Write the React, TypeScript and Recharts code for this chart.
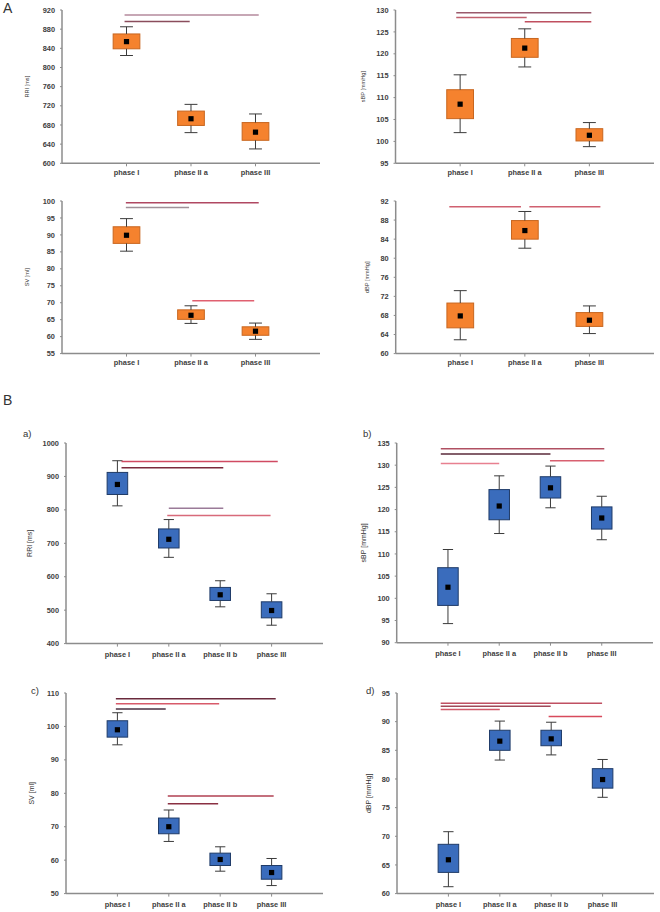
import React from 'react';
import { ScatterChart, Scatter, XAxis, YAxis, ReferenceArea, ReferenceLine } from 'recharts';

const phasesA = ['phase I', 'phase II a', 'phase III'];
const phasesB = ['phase I', 'phase II a', 'phase II b', 'phase III'];

// ---------- Panel A : RRI ----------
const aRriMean = [854, 693, 665];
const aRriQ1 = [839, 679, 648];
const aRriQ3 = [870, 709, 685];
const aRriMin = [825, 664, 630];
const aRriMax = [885, 723, 703];
const aRriTicks = [600, 640, 680, 720, 760, 800, 840, 880, 920];
const aRriSig = [
  { from: 0.97, to: 3.05, y: 909.5 },
  { from: 0.97, to: 1.98, y: 896 },
];
const aRriSigColors = ['#b58a9c', '#8a4d5c'];

// ---------- Panel A : sBP ----------
const aSbpMean = [108.5, 121.3, 101.4];
const aSbpQ1 = [105.2, 119.2, 100.1];
const aSbpQ3 = [111.8, 123.5, 102.9];
const aSbpMin = [102.0, 117.0, 98.8];
const aSbpMax = [115.2, 125.7, 104.3];
const aSbpTicks = [95, 100, 105, 110, 115, 120, 125, 130];
const aSbpSig = [
  { from: 0.94, to: 3.03, y: 129.4 },
  { from: 0.94, to: 2.03, y: 128.3 },
  { from: 2.0, to: 3.03, y: 127.3 },
];
const aSbpSigColors = ['#9a5a6c', '#c0606e', '#c04f5f'];

// ---------- Panel A : SV ----------
const aSvMean = [89.9, 66.3, 61.6];
const aSvQ1 = [87.5, 65.1, 60.4];
const aSvQ3 = [92.4, 67.9, 62.9];
const aSvMin = [85.2, 63.9, 59.2];
const aSvMax = [94.8, 69.1, 64.0];
const aSvTicks = [55, 60, 65, 70, 75, 80, 85, 90, 95, 100];
const aSvSig = [
  { from: 0.99, to: 3.05, y: 99.5 },
  { from: 0.99, to: 1.97, y: 98.1 },
  { from: 2.02, to: 2.98, y: 70.6 },
];
const aSvSigColors = ['#b04862', '#a09098', '#e06070'];

// ---------- Panel A : dBP ----------
const aDbpMean = [67.9, 85.8, 67.0];
const aDbpQ1 = [65.4, 84.0, 65.7];
const aDbpQ3 = [70.6, 87.9, 68.6];
const aDbpMin = [62.9, 82.1, 64.2];
const aDbpMax = [73.2, 89.8, 70.0];
const aDbpTicks = [60, 64, 68, 72, 76, 80, 84, 88, 92];
const aDbpSig = [
  { from: 0.83, to: 1.94, y: 90.8 },
  { from: 2.07, to: 3.17, y: 90.8 },
];
const aDbpSigColors = ['#d06070', '#d06070'];

// ---------- Panel B a) RRI ----------
const bRriMean = [876, 712, 546, 499];
const bRriQ1 = [846, 686, 529, 477];
const bRriQ3 = [912, 743, 568, 525];
const bRriMin = [812, 658, 510, 455];
const bRriMax = [947, 771, 588, 549];
const bRriTicks = [400, 500, 600, 700, 800, 900, 1000];
const bRriSig = [
  { from: 1.08, to: 4.12, y: 945 },
  { from: 1.08, to: 3.06, y: 926 },
  { from: 2.0, to: 3.06, y: 805 },
  { from: 1.97, to: 3.98, y: 783 },
];
const bRriSigColors = ['#d04a62', '#7a2a3c', '#9a7a98', '#d86a7a'];

// ---------- Panel B b) sBP ----------
const bSbpMean = [102.5, 120.8, 124.9, 118.1];
const bSbpQ1 = [98.4, 117.7, 122.6, 115.6];
const bSbpQ3 = [106.9, 124.5, 127.4, 120.6];
const bSbpMin = [94.3, 114.6, 120.4, 113.2];
const bSbpMax = [111.0, 127.6, 129.8, 123.0];
const bSbpTicks = [90, 95, 100, 105, 110, 115, 120, 125, 130, 135];
const bSbpSig = [
  { from: 0.86, to: 4.05, y: 133.7 },
  { from: 0.86, to: 3.0, y: 132.5 },
  { from: 0.86, to: 2.0, y: 130.4 },
  { from: 2.99, to: 4.05, y: 131.0 },
];
const bSbpSigColors = ['#b05062', '#5a2a3a', '#e88090', '#d86070'];

// ---------- Panel B c) SV ----------
const bSvMean = [99.0, 70.0, 60.2, 56.3];
const bSvQ1 = [96.8, 67.9, 58.4, 54.3];
const bSvQ3 = [101.7, 72.6, 62.1, 58.4];
const bSvMin = [94.5, 65.6, 56.7, 52.4];
const bSvMax = [104.1, 75.0, 64.0, 60.5];
const bSvTicks = [50, 60, 70, 80, 90, 100, 110];
const bSvSig = [
  { from: 0.97, to: 4.08, y: 108.3 },
  { from: 0.97, to: 2.98, y: 106.8 },
  { from: 0.97, to: 1.94, y: 105.2 },
  { from: 1.98, to: 4.04, y: 79.2 },
  { from: 1.98, to: 2.96, y: 76.9 },
];
const bSvSigColors = ['#6a2a3c', '#d85a6a', '#4a3042', '#b04052', '#8a3042'];

// ---------- Panel B d) dBP ----------
const bDbpMean = [65.9, 86.6, 87.0, 79.9];
const bDbpQ1 = [63.7, 85.0, 85.8, 78.4];
const bDbpQ3 = [68.6, 88.5, 88.5, 81.8];
const bDbpMin = [61.2, 83.3, 84.2, 76.8];
const bDbpMax = [70.8, 90.1, 89.9, 83.4];
const bDbpTicks = [60, 65, 70, 75, 80, 85, 90, 95];
const bDbpSig = [
  { from: 0.85, to: 3.99, y: 93.2 },
  { from: 0.85, to: 2.99, y: 92.7 },
  { from: 0.85, to: 2.0, y: 92.1 },
  { from: 2.95, to: 3.99, y: 90.9 },
];
const bDbpSigColors = ['#c05062', '#a04858', '#d05a6a', '#d84a5c'];

const FONT = '"Liberation Sans", Arial, sans-serif';
const ORANGE = { fill: '#f5822e', stroke: '#c8661f' };
const BLUE = { fill: '#3a6cbc', stroke: '#1f3b68' };

type Sig = { from: number; to: number; y: number };

type PanelProps = {
  id: string;
  x0: number;
  plotLeft: number;
  plotRight: number;
  plotTop: number;
  plotBottom: number;
  cats: string[];
  mean: number[];
  q1: number[];
  q3: number[];
  lo: number[];
  hi: number[];
  ticks: number[];
  sig: Sig[];
  sigColors: string[];
  yLabel: string;
  yLabelSize: number;
  yLabelDx: number;
  colors: { fill: string; stroke: string };
  boxHalf: number;
  capHalf: number;
  tickMarginX: number;
};

function Panel(p: PanelProps) {
  const data = p.cats.map((c, i) => ({ x: i + 1, mean: p.mean[i], q1: p.q1[i], q3: p.q3[i], lo: p.lo[i], hi: p.hi[i] }));
  const height = p.plotBottom - p.plotTop + 10 + 28;
  const margin = { top: 10, right: p.x0 + 330 - p.plotRight, bottom: 10, left: p.plotLeft - p.x0 - 30 };
  const domain = [p.ticks[0], p.ticks[p.ticks.length - 1]];
  const axisColor = '#8c8c8c';
  const whisker = '#3a3a3a';
  const boxFill = p.colors.fill;
  const boxStroke = p.colors.stroke;
  const meanShape = (s: any) => (
    <rect x={s.cx - 2.6} y={s.cy - 2.6} width={5.2} height={5.2} fill="#000" />
  );
  const boxShape = (s: any) => (
    <rect x={s.x} y={s.y} width={s.width} height={s.height} fill={boxFill} stroke={boxStroke} strokeWidth={1} />
  );
  const yLabelContent = (lp: any) => {
    const vb = lp.viewBox || { x: 0, y: 0, width: 30, height: 100 };
    const cx = vb.x + vb.width - p.yLabelDx;
    const cy = vb.y + vb.height / 2;
    return (
      <text
        x={cx}
        y={cy}
        transform={`rotate(-90 ${cx} ${cy})`}
        textAnchor="middle"
        dominantBaseline="central"
        fontSize={p.yLabelSize}
        fontFamily={FONT}
        fill="#333"
      >
        {p.yLabel}
      </text>
    );
  };
  return (
    <div style={{ position: 'absolute', left: p.x0, top: p.plotTop - 10 }}>
      <ScatterChart id={p.id} width={330} height={height} margin={margin}>
        <XAxis
          dataKey="x"
          type="number"
          domain={[0, p.cats.length + 1]}
          ticks={p.cats.map((_, i) => i + 1)}
          tickFormatter={(v: number) => p.cats[v - 1] ?? ''}
          interval={0}
          height={18}
          tickSize={3}
          tickMargin={p.tickMarginX}
          axisLine={{ stroke: axisColor, strokeWidth: 1.5 }}
          tickLine={{ stroke: axisColor }}
          tick={{ fontSize: 7.4, fontWeight: 'bold', fill: '#404040', fontFamily: FONT }}
          allowDataOverflow
        />
        <YAxis
          dataKey="mean"
          type="number"
          domain={domain}
          ticks={p.ticks}
          interval={0}
          width={30}
          tickSize={2}
          tickMargin={5}
          axisLine={{ stroke: axisColor, strokeWidth: 1.5 }}
          tickLine={{ stroke: axisColor }}
          tick={{ fontSize: 7.4, fontWeight: 'bold', fill: '#404040', fontFamily: FONT }}
          label={{ content: yLabelContent }}
          allowDataOverflow
        />
        {data.map((d, i) => (
          <ReferenceLine
            key={`${p.id}-wu${i}`}
            segment={[{ x: d.x, y: d.q3 }, { x: d.x, y: d.hi }]}
            stroke={whisker}
            strokeWidth={1}
            ifOverflow="visible"
          />
        ))}
        {data.map((d, i) => (
          <ReferenceLine
            key={`${p.id}-wl${i}`}
            segment={[{ x: d.x, y: d.lo }, { x: d.x, y: d.q1 }]}
            stroke={whisker}
            strokeWidth={1}
            ifOverflow="visible"
          />
        ))}
        {data.map((d, i) => (
          <ReferenceLine
            key={`${p.id}-cu${i}`}
            segment={[{ x: d.x - p.capHalf, y: d.hi }, { x: d.x + p.capHalf, y: d.hi }]}
            stroke={whisker}
            strokeWidth={1}
            ifOverflow="visible"
          />
        ))}
        {data.map((d, i) => (
          <ReferenceLine
            key={`${p.id}-cl${i}`}
            segment={[{ x: d.x - p.capHalf, y: d.lo }, { x: d.x + p.capHalf, y: d.lo }]}
            stroke={whisker}
            strokeWidth={1}
            ifOverflow="visible"
          />
        ))}
        {data.map((d, i) => (
          <ReferenceArea
            key={`${p.id}-b${i}`}
            x1={d.x - p.boxHalf}
            x2={d.x + p.boxHalf}
            y1={d.q1}
            y2={d.q3}
            fill={boxFill}
            fillOpacity={1}
            stroke={boxStroke}
            strokeWidth={1}
            shape={boxShape}
            ifOverflow="visible"
          />
        ))}
        {p.sig.map((s, i) => (
          <ReferenceLine
            key={`${p.id}-s${i}`}
            segment={[{ x: s.from, y: s.y }, { x: s.to, y: s.y }]}
            stroke={p.sigColors[i]}
            strokeWidth={1.5}
            ifOverflow="visible"
          />
        ))}
        <Scatter data={data} dataKey="mean" shape={meanShape} isAnimationActive={false} />
      </ScatterChart>
    </div>
  );
}

const letterStyle = (left: number, top: number, size: number): React.CSSProperties => ({
  position: 'absolute',
  left,
  top,
  fontSize: size,
  fontFamily: FONT,
  color: '#333',
  lineHeight: 1,
});

export default function App() {
  const a = { boxHalf: 0.207, capHalf: 0.1, tickMarginX: 3, yLabelSize: 5.6, colors: ORANGE };
  const b = { boxHalf: 0.2, capHalf: 0.1, tickMarginX: 5, yLabelSize: 7, colors: BLUE };
  return (
    <div style={{ position: 'absolute', left: 0, top: 0, width: 660, height: 912, background: '#fff', overflow: 'hidden' }}>
      <div style={letterStyle(3, 1, 14)}>A</div>
      <div style={letterStyle(3, 393, 14)}>B</div>
      <div style={letterStyle(23, 429, 9.5)}>a)</div>
      <div style={letterStyle(363, 429, 9.5)}>b)</div>
      <div style={letterStyle(31, 686, 9.5)}>c)</div>
      <div style={letterStyle(366, 686, 9.5)}>d)</div>

      <Panel {...a} id="arri" x0={0} plotLeft={62} plotRight={320} plotTop={10} plotBottom={163.3}
        cats={phasesA} mean={aRriMean} q1={aRriQ1} q3={aRriQ3} lo={aRriMin} hi={aRriMax}
        ticks={aRriTicks} sig={aRriSig} sigColors={aRriSigColors} yLabel="RRI [ms]" yLabelDx={35} />
      <Panel {...a} id="asbp" x0={330} plotLeft={395.5} plotRight={654} plotTop={10} plotBottom={163.3}
        cats={phasesA} mean={aSbpMean} q1={aSbpQ1} q3={aSbpQ3} lo={aSbpMin} hi={aSbpMax}
        ticks={aSbpTicks} sig={aSbpSig} sigColors={aSbpSigColors} yLabel="sBP [mmHg]" yLabelDx={32.5} />
      <Panel {...a} id="asv" x0={0} plotLeft={62} plotRight={320} plotTop={200.7} plotBottom={353.3}
        cats={phasesA} mean={aSvMean} q1={aSvQ1} q3={aSvQ3} lo={aSvMin} hi={aSvMax}
        ticks={aSvTicks} sig={aSvSig} sigColors={aSvSigColors} yLabel="SV [ml]" yLabelDx={35} />
      <Panel {...a} id="adbp" x0={330} plotLeft={395.7} plotRight={654} plotTop={200.7} plotBottom={353.3}
        cats={phasesA} mean={aDbpMean} q1={aDbpQ1} q3={aDbpQ3} lo={aDbpMin} hi={aDbpMax}
        ticks={aDbpTicks} sig={aDbpSig} sigColors={aDbpSigColors} yLabel="dBP [mmHg]" yLabelDx={28.7} />

      <Panel {...b} id="brri" x0={0} plotLeft={66} plotRight={323} plotTop={442.7} plotBottom={643.3}
        cats={phasesB} mean={bRriMean} q1={bRriQ1} q3={bRriQ3} lo={bRriMin} hi={bRriMax}
        ticks={bRriTicks} sig={bRriSig} sigColors={bRriSigColors} yLabel="RRI [ms]" yLabelDx={36.7} />
      <Panel {...b} id="bsbp" x0={330} plotLeft={396.7} plotRight={653} plotTop={443.3} plotBottom={643}
        cats={phasesB} mean={bSbpMean} q1={bSbpQ1} q3={bSbpQ3} lo={bSbpMin} hi={bSbpMax}
        ticks={bSbpTicks} sig={bSbpSig} sigColors={bSbpSigColors} yLabel="sBP [mmHg]" yLabelDx={33.7} />
      <Panel {...b} id="bsv" x0={0} plotLeft={66} plotRight={323} plotTop={692.7} plotBottom={893.3}
        cats={phasesB} mean={bSvMean} q1={bSvQ1} q3={bSvQ3} lo={bSvMin} hi={bSvMax}
        ticks={bSvTicks} sig={bSvSig} sigColors={bSvSigColors} yLabel="SV [ml]" yLabelDx={34.3} />
      <Panel {...b} id="bdbp" x0={330} plotLeft={397} plotRight={654} plotTop={692.7} plotBottom={893.3}
        cats={phasesB} mean={bDbpMean} q1={bDbpQ1} q3={bDbpQ3} lo={bDbpMin} hi={bDbpMax}
        ticks={bDbpTicks} sig={bDbpSig} sigColors={bDbpSigColors} yLabel="dBP [mmHg]" yLabelDx={28.7} />
    </div>
  );
}
